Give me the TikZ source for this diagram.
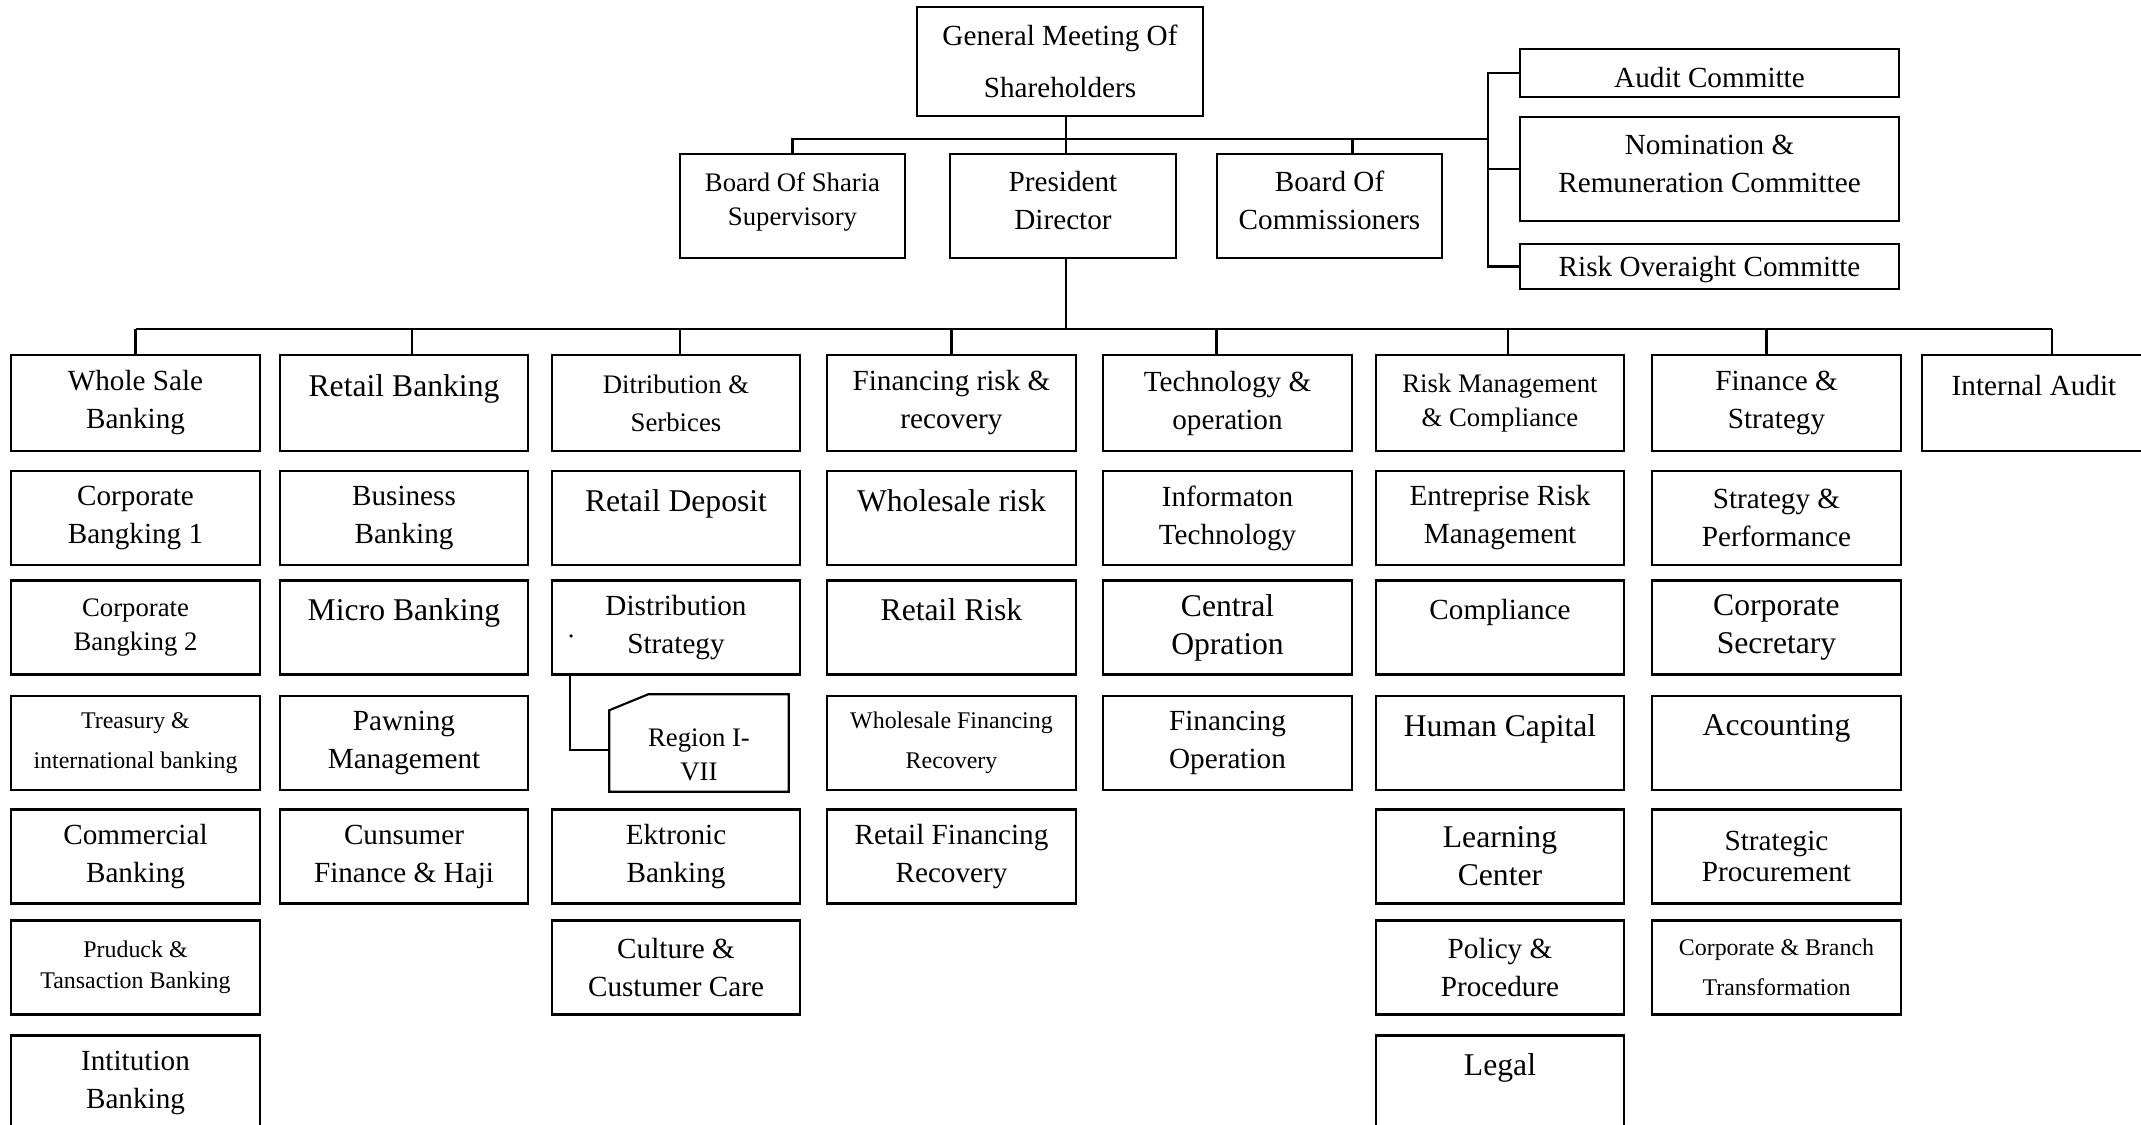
\documentclass[tikz,border=0pt]{standalone}
\usepackage{fontspec}
\setmainfont{Liberation Serif}
\usetikzlibrary{calc}
\tikzset{
  orgbox/.style   = {draw, line width=0.6pt, align=center, inner sep=1pt,
                     minimum width=2.48cm, minimum height=0.94cm},
  headbox/.style  = {orgbox, minimum height=0.96cm},
  topline/.style  = {text depth=10.2pt},
  link/.style     = {line width=0.6pt},
  dotmark/.style  = {circle, fill=black, inner sep=0.3pt},
  fA/.style       = {font=\fontsize{9}{10.8}\selectfont},
  fB/.style       = {font=\fontsize{8.3}{10.8}\selectfont},
  fBt/.style      = {font=\fontsize{8.3}{8.9}\selectfont},
  fC/.style       = {font=\fontsize{7.6}{9.7}\selectfont},
  fCw/.style      = {font=\fontsize{7.6}{10.8}\selectfont},
  fD/.style       = {font=\fontsize{6.8}{11.4}\selectfont},
  fDt/.style      = {font=\fontsize{6.8}{8.9}\selectfont},
  fGM/.style      = {font=\fontsize{8.3}{14.8}\selectfont},
}
\begin{document}
\begin{tikzpicture}[x=0.01cm,y=-0.01cm]
  \useasboundingbox (0,0) rectangle (2141,1125);
  % top of the chart
  \node[orgbox, fGM, minimum width=2.86cm, minimum height=1.09cm] (gms) at (1060,61.5) {General Meeting Of\\Shareholders};
  \node[orgbox, fC, minimum width=2.25cm, minimum height=1.04cm, text depth=4pt] (sharia) at (792.5,206) {Board Of Sharia\\Supervisory};
  \node[orgbox, fB, minimum width=2.26cm, minimum height=1.04cm, text depth=3pt] (pres) at (1063,206) {President\\Director};
  \node[orgbox, fB, minimum width=2.25cm, minimum height=1.04cm, text depth=3pt] (comm) at (1329.5,206) {Board Of\\Commissioners};
  \node[orgbox, fB, minimum width=3.79cm, minimum height=0.48cm, text height=8.5pt] (audc) at (1709.5,73) {Audit Committe};
  \node[orgbox, fB, minimum width=3.79cm, minimum height=1.04cm, text depth=3pt] (nomc) at (1709.5,169) {Nomination \&\\Remuneration Committee};
  \node[orgbox, fB, minimum width=3.79cm, minimum height=0.45cm, text height=7.5pt] (riskc) at (1709.5,266.5) {Risk Overaight Committe};
  \coordinate (bar) at (1488,139);
  \coordinate (branch) at (0,329);
  \coordinate (gmdrop) at ($(gms.south)+(6,0)$);
  \coordinate (commtick) at ($(comm.north)+(23,0)$);
  \draw[link] (gmdrop) -- (gmdrop |- pres.north);
  \draw[link] (sharia.north) -- (sharia.north |- bar) -- (bar);
  \draw[link] (commtick) -- (commtick |- bar);
  \draw[link] (audc.west) -- (audc.west -| bar) -- (riskc.west -| bar) -- (riskc.west);
  \draw[link] (nomc.west) -- (nomc.west -| bar);

  % directorates
  \node[headbox, fB] (wsb) at (135.5,403) {Whole Sale\\Banking};
  \node[headbox, fA, topline] (rtb) at (404,403) {Retail Banking};
  \node[headbox, fCw] (dis) at (676,403) {Ditribution \&\\Serbices};
  \node[headbox, fB] (fin) at (951.5,403) {Financing risk \&\\recovery};
  \node[headbox, fB] (tec) at (1227.5,403) {Technology \&\\operation};
  \node[headbox, fC] (rmc) at (1500,403) {Risk Management\\\& Compliance};
  \node[headbox, fB] (fst) at (1776.5,403) {Finance \&\\Strategy};
  \node[headbox, fB, topline, minimum width=2.24cm] (iaud) at (2034,403) {Internal Audit};
  \coordinate (t2) at ($(rtb.north)+(8,0)$);
  \coordinate (t3) at ($(dis.north)+(4,0)$);
  \coordinate (t5) at ($(tec.north)+(-11,0)$);
  \coordinate (t6) at ($(rmc.north)+(8,0)$);
  \coordinate (t7) at ($(fst.north)+(-10,0)$);
  \coordinate (t8) at ($(iaud.north)+(18,0)$);
  \draw[link] (gmdrop |- pres.south) -- (gmdrop |- branch);
  \draw[link] (wsb.north |- branch) -- (t8 |- branch);
  \draw[link] (wsb.north) -- (wsb.north |- branch)
              (t2) -- (t2 |- branch)
              (t3) -- (t3 |- branch)
              (fin.north) -- (fin.north |- branch)
              (t5) -- (t5 |- branch)
              (t6) -- (t6 |- branch)
              (t7) -- (t7 |- branch)
              (t8) -- (t8 |- branch);

  % whole sale banking
  \node[orgbox, fB] (cb1) at (135.5,518) {Corporate\\Bangking 1};
  \node[orgbox, fC] (cb2) at (135.5,627.5) {Corporate\\Bangking 2};
  \node[orgbox, fD] (trs) at (135.5,743) {Treasury \&\\international banking};
  \node[orgbox, fB] (cmb) at (135.5,856.5) {Commercial\\Banking};
  \node[orgbox, fDt] (ptb) at (135.5,967.5) {Pruduck \&\\Tansaction Banking};
  \node[orgbox, fB] (inb) at (135.5,1082.5) {Intitution\\Banking};

  % retail banking
  \node[orgbox, fB] (bsb) at (404,518) {Business\\Banking};
  \node[orgbox, fA, topline] (mcb) at (404,627.5) {Micro Banking};
  \node[orgbox, fB] (pwm) at (404,743) {Pawning\\Management};
  \node[orgbox, fB] (cfh) at (404,856.5) {Cunsumer\\Finance \& Haji};

  % distribution
  \node[orgbox, fA, topline] (rdp) at (676,518) {Retail Deposit};
  \node[orgbox, fB] (dstr) at (676,627.5) {Distribution\\Strategy};
  \node[dotmark] (dsdot) at (571,636) {};
  \node[align=center, fC, inner sep=1pt, minimum width=1.78cm, minimum height=0.96cm, text height=21.6pt] (region) at (699,743) {Region I-\\VII};
  \draw[link] ($(region.north west)+(39,0)$) -- (region.north east) -- (region.south east)
              -- (region.south west) -- ($(region.north west)+(0,16)$) -- cycle;
  \draw[link] ($(dstr.south west)+(19,0)$) |- ($(region.west)+(0,7)$);
  \node[orgbox, fB] (ekb) at (676,856.5) {Ektronic\\Banking};
  \node[orgbox, fB] (ccc) at (676,967.5) {Culture \&\\Custumer Care};

  % financing risk
  \node[orgbox, fA, topline] (wsr) at (951.5,518) {Wholesale risk};
  \node[orgbox, fA, topline] (rtr) at (951.5,627.5) {Retail Risk};
  \node[orgbox, fD] (wfr) at (951.5,743) {Wholesale Financing\\Recovery};
  \node[orgbox, fB] (rfr) at (951.5,856.5) {Retail Financing\\Recovery};

  % technology
  \node[orgbox, fB] (itc) at (1227.5,518) {Informaton\\Technology};
  \node[orgbox, fA] (cop) at (1227.5,627.5) {Central\\Opration};
  \node[orgbox, fB] (fop) at (1227.5,743) {Financing\\Operation};

  % risk management
  \node[orgbox, fB] (erm) at (1500,518) {Entreprise Risk\\Management};
  \node[orgbox, fB, topline] (cpl) at (1500,627.5) {Compliance};
  \node[orgbox, fA, topline] (hcp) at (1500,743) {Human Capital};
  \node[orgbox, fA] (lrc) at (1500,856.5) {Learning\\Center};
  \node[orgbox, fB] (pol) at (1500,967.5) {Policy \&\\Procedure};
  \node[orgbox, fA, topline] (lgl) at (1500,1082.5) {Legal};

  % finance
  \node[orgbox, fB] (spf) at (1776.5,518) {Strategy \&\\Performance};
  \node[orgbox, fA] (csc) at (1776.5,627.5) {Corporate\\Secretary};
  \node[orgbox, fA, topline] (acc) at (1776.5,743) {Accounting};
  \node[orgbox, fBt] (spr) at (1776.5,856.5) {Strategic\\Procurement};
  \node[orgbox, fD] (cbt) at (1776.5,967.5) {Corporate \& Branch\\Transformation};
\end{tikzpicture}
\end{document}
